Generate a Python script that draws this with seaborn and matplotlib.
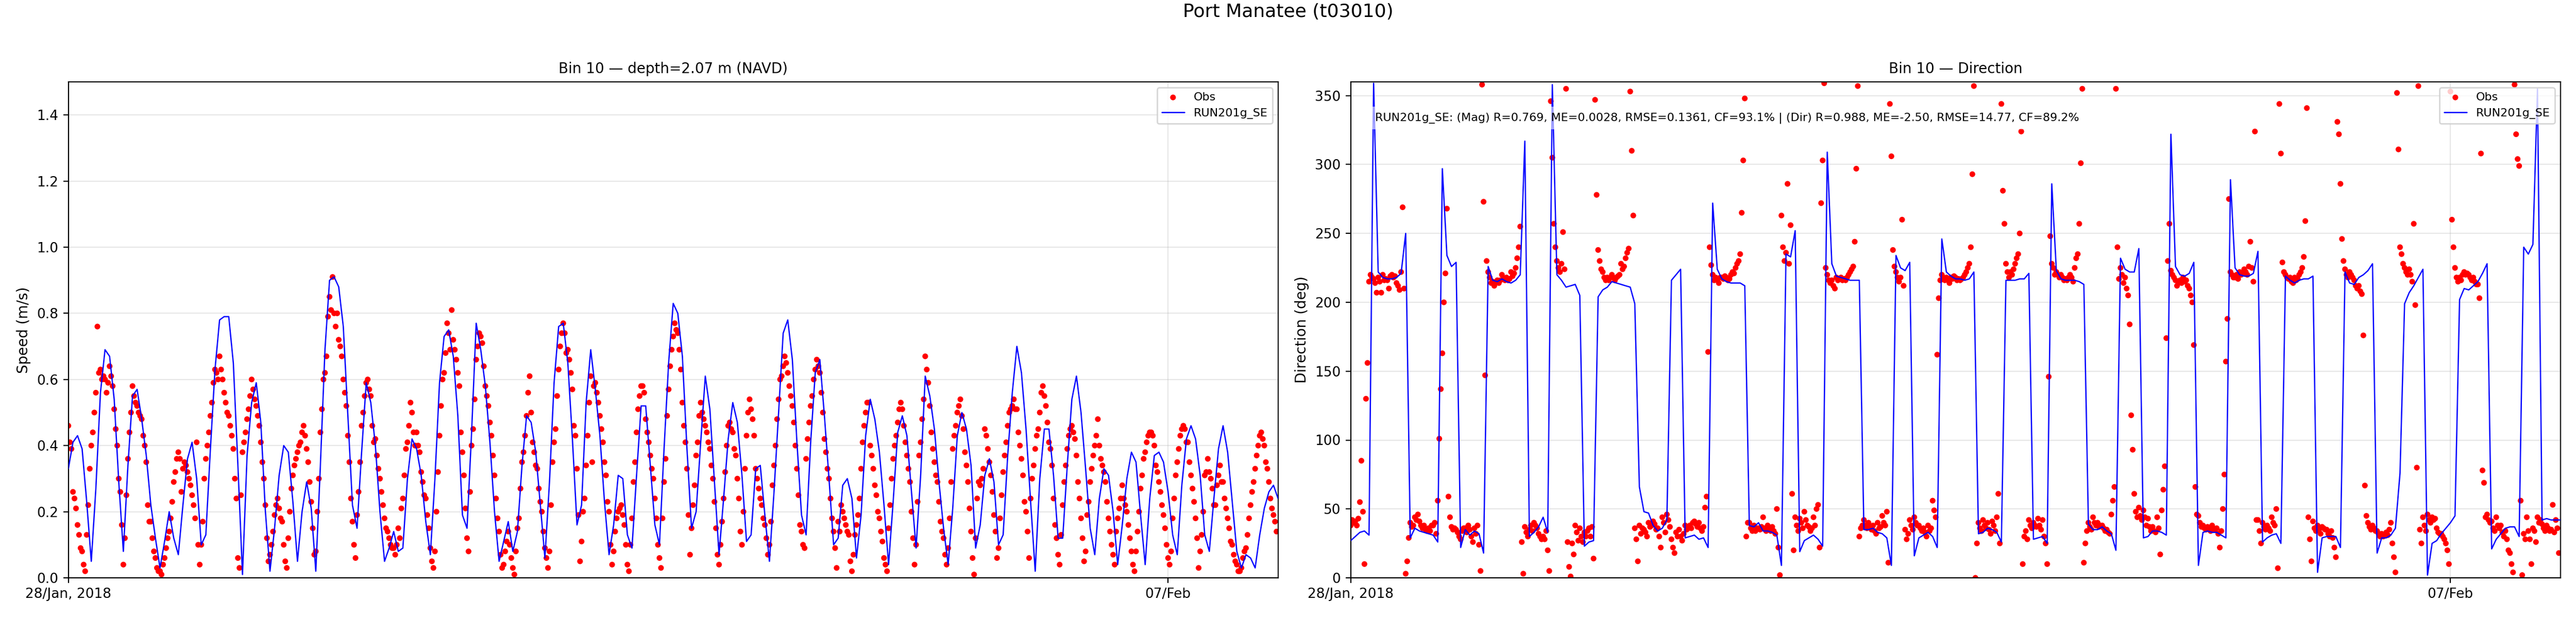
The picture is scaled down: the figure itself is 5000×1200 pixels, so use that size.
import numpy as np
import pandas as pd
import matplotlib
matplotlib.use('Agg')
import matplotlib.pyplot as plt
import matplotlib.dates as mdates
import seaborn as sns

station = "Port Manatee (t03010)"
run_name = "RUN201g_SE"
start_time = "2018-01-28 00:00"
end_time = "2018-02-08 00:00"
tick_dates = ["2018-01-28", "2018-02-07"]
tick_labels = ["28/Jan, 2018", "07/Feb"]
stats_text = ("RUN201g_SE: (Mag) R=0.769, ME=0.0028, RMSE=0.1361, CF=93.1% | "
              "(Dir) R=0.988, ME=-2.50, RMSE=14.77, CF=89.2%")

model_speed = [
    0.33, 0.41, 0.43, 0.39, 0.23, 0.05, 0.27, 0.56, 0.69, 0.67, 0.54, 0.29,
    0.08, 0.34, 0.55, 0.57, 0.48, 0.37, 0.22, 0.12, 0.03, 0.11, 0.20, 0.12,
    0.07, 0.22, 0.36, 0.41, 0.30, 0.10, 0.13, 0.39, 0.63, 0.78, 0.79, 0.79,
    0.65, 0.34, 0.01, 0.37, 0.53, 0.59, 0.47, 0.20, 0.02, 0.15, 0.31, 0.40,
    0.38, 0.23, 0.05, 0.20, 0.29, 0.21, 0.02, 0.34, 0.69, 0.90, 0.91, 0.88,
    0.76, 0.49, 0.22, 0.15, 0.38, 0.59, 0.53, 0.40, 0.20, 0.05, 0.09, 0.14,
    0.08, 0.09, 0.30, 0.42, 0.39, 0.31, 0.17, 0.07, 0.30, 0.59, 0.73, 0.75,
    0.67, 0.49, 0.19, 0.15, 0.44, 0.77, 0.69, 0.58, 0.41, 0.20, 0.05, 0.11,
    0.17, 0.08, 0.14, 0.34, 0.49, 0.47, 0.38, 0.22, 0.06, 0.29, 0.59, 0.76,
    0.77, 0.65, 0.42, 0.16, 0.22, 0.53, 0.69, 0.57, 0.43, 0.23, 0.07, 0.16,
    0.31, 0.30, 0.13, 0.09, 0.31, 0.52, 0.52, 0.34, 0.16, 0.10, 0.39, 0.65,
    0.83, 0.80, 0.67, 0.39, 0.15, 0.20, 0.41, 0.61, 0.51, 0.29, 0.07, 0.24,
    0.42, 0.53, 0.47, 0.31, 0.11, 0.13, 0.33, 0.34, 0.19, 0.05, 0.26, 0.50,
    0.74, 0.78, 0.66, 0.41, 0.19, 0.13, 0.41, 0.62, 0.66, 0.49, 0.30, 0.10,
    0.12, 0.28, 0.30, 0.24, 0.06, 0.19, 0.43, 0.54, 0.48, 0.38, 0.22, 0.04,
    0.23, 0.44, 0.49, 0.43, 0.26, 0.09, 0.31, 0.61, 0.55, 0.45, 0.29, 0.15,
    0.04, 0.21, 0.43, 0.50, 0.45, 0.34, 0.09, 0.16, 0.31, 0.36, 0.29, 0.10,
    0.13, 0.37, 0.56, 0.70, 0.62, 0.45, 0.23, 0.02, 0.30, 0.45, 0.45, 0.31,
    0.12, 0.12, 0.34, 0.54, 0.61, 0.50, 0.33, 0.15, 0.07, 0.24, 0.33, 0.31,
    0.20, 0.04, 0.16, 0.30, 0.38, 0.35, 0.19, 0.04, 0.24, 0.37, 0.38, 0.35,
    0.26, 0.13, 0.07, 0.28, 0.42, 0.46, 0.42, 0.31, 0.13, 0.08, 0.24, 0.39,
    0.46, 0.38, 0.23, 0.08, 0.03, 0.07, 0.06, 0.03, 0.13, 0.21, 0.26, 0.28,
    0.24,
]

model_dir = [
    27, 30, 33, 34, 31, 359, 222, 218, 217, 217, 218, 221,
    250, 29, 36, 34, 33, 32, 31, 26, 297, 234, 226, 229,
    22, 35, 31, 34, 32, 18, 226, 216, 215, 217, 215, 214,
    216, 220, 317, 30, 33, 37, 44, 33, 358, 220, 216, 211,
    212, 213, 205, 23, 26, 27, 204, 209, 211, 215, 214, 213,
    212, 211, 199, 66, 48, 47, 38, 34, 36, 42, 216, 220,
    224, 29, 30, 31, 28, 29, 22, 272, 224, 217, 215, 214,
    214, 214, 212, 38, 37, 40, 34, 34, 33, 31, 9, 235,
    233, 252, 19, 27, 29, 31, 28, 23, 309, 228, 219, 218,
    217, 216, 216, 216, 35, 35, 36, 33, 32, 29, 9, 234,
    225, 223, 229, 16, 29, 31, 33, 30, 22, 246, 222, 219,
    217, 217, 216, 217, 222, 32, 33, 36, 35, 33, 26, 216,
    216, 216, 217, 217, 221, 28, 29, 30, 25, 286, 223, 217,
    216, 216, 216, 215, 213, 39, 35, 35, 37, 34, 32, 20,
    232, 224, 222, 222, 239, 29, 30, 34, 34, 33, 31, 322,
    226, 220, 219, 221, 229, 9, 33, 34, 33, 33, 31, 29,
    289, 225, 220, 219, 219, 221, 237, 26, 29, 31, 32, 25,
    219, 216, 214, 216, 217, 217, 219, 4, 29, 30, 30, 30,
    22, 222, 214, 213, 218, 220, 223, 228, 18, 29, 29, 31,
    36, 76, 199, 207, 212, 218, 224, 2, 25, 27, 32, 36,
    40, 45, 202, 210, 209, 212, 215, 221, 228, 21, 28, 32,
    36, 37, 37, 30, 240, 235, 242, 355, 42, 43, 42, 42,
    42,
]

obs_speed = [
    0.46, 0.41, 0.39, 0.26, 0.24, 0.21, 0.16, 0.13, 0.09, 0.08, 0.04, 0.02, 0.13, 0.22, 0.33, 0.40, 0.44, 0.50, 0.56, 0.76, 0.62, 0.63, 0.60, 0.61,
    0.60, 0.56, 0.59, 0.64, 0.61, 0.58, 0.51, 0.45, 0.40, 0.30, 0.26, 0.16, 0.04, 0.12, 0.25, 0.36, 0.44, 0.50, 0.58, 0.55, 0.53, 0.52, 0.50, 0.49,
    0.48, 0.43, 0.40, 0.35, 0.22, 0.17, 0.17, 0.12, 0.08, 0.06, 0.03, 0.02, 0.02, 0.01, 0.04, 0.06, 0.09, 0.12, 0.14, 0.18, 0.23, 0.29, 0.32, 0.36,
    0.38, 0.36, 0.26, 0.33, 0.35, 0.34, 0.32, 0.30, 0.28, 0.25, 0.22, 0.18, 0.41, 0.10, 0.04, 0.10, 0.17, 0.30, 0.36, 0.40, 0.44, 0.49, 0.53, 0.59,
    0.63, 0.62, 0.60, 0.67, 0.63, 0.60, 0.56, 0.53, 0.50, 0.49, 0.46, 0.43, 0.39, 0.30, 0.24, 0.06, 0.03, 0.25, 0.38, 0.41, 0.44, 0.48, 0.51, 0.55,
    0.60, 0.57, 0.54, 0.52, 0.49, 0.46, 0.41, 0.35, 0.30, 0.22, 0.12, 0.05, 0.07, 0.10, 0.14, 0.19, 0.22, 0.24, 0.21, 0.18, 0.17, 0.10, 0.05, 0.03,
    0.12, 0.20, 0.27, 0.31, 0.34, 0.36, 0.38, 0.40, 0.41, 0.44, 0.46, 0.43, 0.39, 0.35, 0.29, 0.23, 0.15, 0.07, 0.08, 0.20, 0.30, 0.44, 0.51, 0.60,
    0.62, 0.67, 0.79, 0.85, 0.81, 0.91, 0.80, 0.76, 0.80, 0.72, 0.70, 0.67, 0.60, 0.56, 0.52, 0.43, 0.35, 0.24, 0.17, 0.10, 0.06, 0.19, 0.26, 0.35,
    0.46, 0.50, 0.55, 0.59, 0.60, 0.57, 0.55, 0.46, 0.41, 0.42, 0.37, 0.33, 0.30, 0.26, 0.22, 0.18, 0.15, 0.14, 0.12, 0.10, 0.09, 0.09, 0.07, 0.10,
    0.15, 0.12, 0.21, 0.24, 0.31, 0.39, 0.41, 0.46, 0.53, 0.50, 0.44, 0.40, 0.44, 0.40, 0.38, 0.32, 0.29, 0.25, 0.24, 0.19, 0.15, 0.09, 0.05, 0.03,
    0.08, 0.20, 0.32, 0.43, 0.52, 0.60, 0.62, 0.68, 0.77, 0.74, 0.69, 0.81, 0.72, 0.69, 0.66, 0.62, 0.58, 0.44, 0.38, 0.31, 0.21, 0.12, 0.08, 0.26,
    0.40, 0.45, 0.54, 0.66, 0.70, 0.74, 0.73, 0.71, 0.64, 0.58, 0.55, 0.52, 0.47, 0.43, 0.37, 0.31, 0.24, 0.18, 0.14, 0.07, 0.03, 0.04, 0.08, 0.11,
    0.14, 0.10, 0.06, 0.03, 0.01, 0.08, 0.15, 0.18, 0.27, 0.35, 0.38, 0.43, 0.49, 0.56, 0.61, 0.50, 0.41, 0.38, 0.34, 0.33, 0.27, 0.23, 0.20, 0.14,
    0.09, 0.06, 0.03, 0.08, 0.22, 0.35, 0.41, 0.45, 0.55, 0.63, 0.70, 0.74, 0.77, 0.74, 0.68, 0.69, 0.66, 0.62, 0.57, 0.46, 0.43, 0.33, 0.19, 0.05,
    0.11, 0.20, 0.24, 0.34, 0.43, 0.53, 0.61, 0.35, 0.58, 0.59, 0.56, 0.53, 0.49, 0.45, 0.41, 0.35, 0.31, 0.23, 0.20, 0.10, 0.04, 0.08, 0.14, 0.18,
    0.20, 0.21, 0.22, 0.19, 0.16, 0.10, 0.04, 0.02, 0.10, 0.18, 0.29, 0.35, 0.44, 0.51, 0.55, 0.58, 0.58, 0.56, 0.48, 0.44, 0.41, 0.37, 0.33, 0.30,
    0.24, 0.18, 0.10, 0.06, 0.03, 0.18, 0.29, 0.36, 0.49, 0.57, 0.64, 0.69, 0.73, 0.77, 0.75, 0.74, 0.69, 0.63, 0.53, 0.46, 0.41, 0.33, 0.19, 0.07,
    0.15, 0.22, 0.28, 0.37, 0.41, 0.49, 0.53, 0.50, 0.48, 0.46, 0.44, 0.41, 0.39, 0.34, 0.30, 0.23, 0.15, 0.07, 0.04, 0.10, 0.17, 0.24, 0.32, 0.40,
    0.46, 0.47, 0.45, 0.44, 0.39, 0.37, 0.30, 0.24, 0.14, 0.10, 0.20, 0.33, 0.43, 0.50, 0.54, 0.51, 0.48, 0.43, 0.33, 0.30, 0.27, 0.24, 0.22, 0.18,
    0.16, 0.12, 0.07, 0.10, 0.17, 0.28, 0.34, 0.40, 0.48, 0.54, 0.60, 0.61, 0.64, 0.67, 0.65, 0.62, 0.58, 0.55, 0.52, 0.47, 0.40, 0.33, 0.25, 0.16,
    0.14, 0.10, 0.09, 0.36, 0.42, 0.47, 0.52, 0.55, 0.60, 0.63, 0.66, 0.64, 0.62, 0.56, 0.50, 0.42, 0.38, 0.33, 0.30, 0.24, 0.18, 0.14, 0.09, 0.03,
    0.17, 0.14, 0.22, 0.20, 0.18, 0.16, 0.14, 0.13, 0.05, 0.02, 0.07, 0.13, 0.16, 0.19, 0.24, 0.33, 0.41, 0.46, 0.50, 0.53, 0.53, 0.40, 0.37, 0.33,
    0.28, 0.25, 0.20, 0.18, 0.14, 0.11, 0.06, 0.04, 0.02, 0.15, 0.22, 0.30, 0.36, 0.40, 0.43, 0.47, 0.51, 0.53, 0.51, 0.46, 0.41, 0.37, 0.33, 0.29,
    0.20, 0.12, 0.04, 0.10, 0.23, 0.37, 0.41, 0.48, 0.54, 0.67, 0.63, 0.59, 0.52, 0.44, 0.39, 0.35, 0.31, 0.29, 0.23, 0.17, 0.14, 0.12, 0.07, 0.04,
    0.09, 0.18, 0.29, 0.39, 0.43, 0.46, 0.50, 0.52, 0.54, 0.49, 0.45, 0.38, 0.34, 0.29, 0.21, 0.14, 0.06, 0.01, 0.12, 0.24, 0.29, 0.28, 0.30, 0.33,
    0.45, 0.43, 0.39, 0.35, 0.31, 0.26, 0.19, 0.14, 0.06, 0.09, 0.18, 0.25, 0.32, 0.37, 0.41, 0.46, 0.50, 0.51, 0.52, 0.54, 0.51, 0.51, 0.44, 0.40,
    0.36, 0.31, 0.23, 0.20, 0.14, 0.06, 0.24, 0.30, 0.34, 0.39, 0.43, 0.45, 0.50, 0.56, 0.58, 0.55, 0.52, 0.47, 0.41, 0.39, 0.34, 0.24, 0.16, 0.12,
    0.07, 0.04, 0.13, 0.22, 0.29, 0.34, 0.39, 0.43, 0.45, 0.46, 0.44, 0.42, 0.37, 0.29, 0.24, 0.18, 0.12, 0.05, 0.08, 0.19, 0.23, 0.29, 0.33, 0.37,
    0.40, 0.43, 0.48, 0.40, 0.36, 0.34, 0.32, 0.29, 0.23, 0.18, 0.14, 0.10, 0.07, 0.04, 0.14, 0.18, 0.21, 0.24, 0.28, 0.24, 0.22, 0.20, 0.16, 0.12,
    0.08, 0.04, 0.02, 0.08, 0.14, 0.20, 0.27, 0.31, 0.36, 0.38, 0.41, 0.43, 0.44, 0.44, 0.43, 0.40, 0.34, 0.32, 0.29, 0.26, 0.22, 0.19, 0.15, 0.10,
    0.06, 0.04, 0.08, 0.18, 0.24, 0.31, 0.35, 0.39, 0.43, 0.45, 0.46, 0.45, 0.41, 0.41, 0.35, 0.31, 0.27, 0.23, 0.18, 0.12, 0.03, 0.08, 0.13, 0.20,
    0.31, 0.32, 0.36, 0.32, 0.30, 0.27, 0.22, 0.22, 0.28, 0.31, 0.34, 0.29, 0.29, 0.24, 0.21, 0.18, 0.15, 0.11, 0.10, 0.07, 0.05, 0.04, 0.02, 0.02,
    0.03, 0.06, 0.08, 0.09, 0.13, 0.18, 0.22, 0.26, 0.29, 0.33, 0.37, 0.40, 0.43, 0.44, 0.42, 0.40, 0.35, 0.33, 0.29, 0.24, 0.21, 0.19, 0.17, 0.14,
]

obs_dir = [
    38, 42, 40, 41, 38, 43, 55, 85, 48, 10, 130, 156, 215, 220, 218, 217, 214, 207, 218, 215, 207, 220, 216, 217,
    216, 210, 219, 220, 218, 219, 214, 212, 209, 222, 269, 210, 3, 12, 29, 40, 37, 38, 44, 42, 46, 41, 38, 36,
    38, 35, 34, 36, 34, 38, 38, 40, 32, 56, 101, 137, 163, 200, 221, 268, 59, 44, 37, 35, 36, 35, 33, 30,
    28, 34, 36, 36, 33, 38, 35, 30, 26, 36, 32, 38, 24, 5, 358, 273, 147, 230, 222, 218, 214, 215, 212, 214,
    216, 214, 216, 220, 217, 216, 218, 216, 217, 222, 219, 221, 225, 232, 240, 255, 26, 3, 37, 33, 30, 35, 38, 34,
    40, 38, 36, 32, 30, 28, 30, 28, 34, 20, 5, 346, 305, 257, 240, 230, 225, 222, 228, 251, 224, 355, 26, 8,
    1, 25, 17, 38, 33, 27, 36, 30, 26, 33, 30, 34, 36, 30, 37, 14, 347, 278, 238, 230, 224, 222, 218, 216,
    218, 216, 218, 220, 218, 216, 218, 219, 220, 228, 224, 226, 232, 236, 239, 353, 310, 263, 36, 28, 12, 38, 32, 36,
    35, 33, 30, 40, 37, 38, 41, 39, 35, 36, 30, 22, 44, 40, 33, 46, 42, 37, 28, 22, 18, 33, 30, 35,
    30, 27, 32, 38, 35, 36, 38, 36, 40, 41, 39, 37, 40, 36, 34, 37, 51, 59, 164, 240, 227, 220, 216, 218,
    216, 214, 218, 218, 217, 219, 218, 216, 217, 220, 222, 221, 225, 228, 230, 235, 265, 303, 348, 30, 40, 40, 36, 34,
    38, 34, 36, 36, 35, 37, 44, 36, 34, 38, 36, 34, 37, 34, 32, 50, 22, 2, 263, 240, 230, 236, 286, 228,
    256, 61, 20, 44, 38, 34, 43, 40, 36, 48, 42, 38, 37, 34, 36, 44, 38, 50, 53, 22, 272, 303, 359, 225,
    220, 216, 214, 216, 212, 210, 218, 216, 217, 218, 216, 217, 216, 218, 220, 222, 224, 226, 244, 297, 357, 30, 36, 38,
    42, 38, 36, 40, 37, 35, 38, 34, 32, 40, 36, 37, 45, 40, 38, 48, 11, 344, 306, 238, 226, 222, 218, 215,
    218, 260, 212, 35, 28, 32, 42, 38, 35, 44, 40, 38, 38, 36, 34, 36, 33, 30, 38, 34, 36, 56, 49, 44,
    162, 203, 216, 220, 218, 216, 218, 216, 214, 218, 217, 219, 218, 216, 217, 216, 217, 218, 220, 222, 225, 228, 240, 293,
    357, 0, 25, 40, 36, 34, 42, 38, 36, 40, 35, 32, 41, 38, 34, 44, 61, 25, 344, 281, 257, 228, 222, 218,
    222, 220, 224, 228, 232, 235, 250, 324, 10, 30, 34, 28, 42, 38, 36, 40, 38, 37, 43, 38, 35, 42, 30, 25,
    10, 146, 248, 228, 225, 220, 222, 220, 218, 220, 218, 216, 217, 216, 218, 220, 218, 215, 225, 232, 235, 257, 301, 355,
    11, 25, 34, 40, 37, 35, 44, 40, 38, 40, 37, 38, 38, 36, 34, 35, 33, 32, 46, 56, 66, 355, 240, 217,
    225, 220, 214, 218, 210, 205, 184, 118, 93, 61, 48, 44, 51, 45, 42, 49, 44, 38, 43, 37, 34, 37, 34, 33,
    44, 36, 17, 49, 64, 81, 174, 230, 257, 223, 220, 218, 216, 212, 214, 216, 214, 218, 215, 216, 212, 210, 205, 200,
    169, 66, 46, 45, 40, 37, 38, 36, 35, 37, 35, 34, 38, 36, 35, 36, 32, 22, 34, 50, 75, 157, 188, 275,
    222, 220, 218, 218, 220, 217, 222, 220, 221, 224, 222, 220, 226, 244, 225, 215, 324, 42, 42, 34, 25, 40, 37, 35,
    38, 36, 34, 44, 40, 38, 50, 7, 344, 308, 229, 222, 220, 218, 217, 218, 215, 214, 218, 216, 217, 220, 222, 225,
    233, 259, 341, 44, 28, 12, 41, 36, 34, 38, 35, 32, 37, 36, 35, 35, 32, 30, 34, 29, 22, 15, 331, 322,
    286, 246, 230, 224, 220, 218, 222, 220, 218, 216, 212, 210, 212, 208, 206, 176, 67, 45, 40, 37, 35, 38, 36, 34,
    34, 32, 30, 32, 30, 31, 33, 31, 35, 40, 25, 15, 4, 352, 311, 240, 235, 228, 225, 222, 220, 224, 220, 215,
    257, 198, 80, 357, 35, 25, 44, 38, 34, 46, 42, 40, 44, 42, 43, 36, 33, 32, 32, 30, 28, 25, 20, 10,
    353, 260, 240, 225, 218, 215, 218, 216, 220, 222, 220, 221, 220, 218, 216, 218, 215, 213, 213, 203, 308, 78, 69, 44,
    46, 42, 40, 41, 36, 34, 44, 38, 36, 38, 33, 30, 34, 28, 20, 18, 10, 4, 358, 322, 304, 299, 56, 2,
    32, 28, 44, 34, 28, 10, 36, 34, 26, 44, 40, 42, 39, 36, 34, 38, 36, 34, 35, 53, 33, 42, 36, 18,
]

# 2. TIME AXES
model_time = pd.date_range(start_time, periods=len(model_speed), freq="h")
obs_time = pd.date_range(start_time, periods=len(obs_speed), freq="20min")
obs_dir_time = pd.date_range(start_time, periods=len(obs_dir), freq="20min")

df_obs = pd.DataFrame({"time": obs_time, "speed": obs_speed})
df_obs_dir = pd.DataFrame({"time": obs_dir_time, "dir": obs_dir})
df_mod = pd.DataFrame({"time": model_time, "speed": model_speed, "dir": model_dir})

# 3. STYLE
sns.set_style("ticks", {"axes.edgecolor": "black", "xtick.color": "black",
                        "ytick.color": "black", "text.color": "black",
                        "axes.labelcolor": "black"})
plt.rcParams['font.family'] = ['DejaVu Sans']

fig = plt.figure(figsize=(25, 6), dpi=200)
ax_spd = fig.add_axes([0.02654, 0.065, 0.4696, 0.8025])
ax_dir = fig.add_axes([0.52434, 0.065, 0.4696, 0.8025])

# 4. SPEED PANEL
sns.scatterplot(data=df_obs, x="time", y="speed", color="red", s=16,
                edgecolor="none", linewidth=0, label="Obs", ax=ax_spd, zorder=2)
sns.lineplot(data=df_mod, x="time", y="speed", color="blue", lw=0.9,
             estimator=None, label=run_name, ax=ax_spd, zorder=3)
ax_spd.set_ylim(0, 1.5)
ax_spd.set_yticks(np.arange(0, 1.41, 0.2))
ax_spd.set_ylabel("Speed (m/s)", fontsize=10)
ax_spd.set_title("Bin 10 \u2014 depth=2.07 m (NAVD)", fontsize=10)

# 5. DIRECTION PANEL
sns.scatterplot(data=df_obs_dir, x="time", y="dir", color="red", s=16,
                edgecolor="none", linewidth=0, label="Obs", ax=ax_dir, zorder=2)
sns.lineplot(data=df_mod, x="time", y="dir", color="blue", lw=0.9,
             estimator=None, label=run_name, ax=ax_dir, zorder=3)
ax_dir.set_ylim(0, 360)
ax_dir.set_yticks(np.arange(0, 351, 50))
ax_dir.set_ylabel("Direction (deg)", fontsize=10)
ax_dir.set_title("Bin 10 \u2014 Direction", fontsize=10)
ax_dir.text(0.02, 0.927, stats_text, transform=ax_dir.transAxes, fontsize=8,
            va="center", ha="left", zorder=5,
            bbox=dict(facecolor="white", alpha=0.6, edgecolor="none"))

# 6. SHARED AXIS FORMATTING
for ax in (ax_spd, ax_dir):
    ax.set_xlim(pd.Timestamp(start_time), pd.Timestamp(end_time))
    ax.set_xticks([mdates.date2num(pd.Timestamp(d)) for d in tick_dates])
    ax.set_xticklabels(tick_labels)
    ax.set_xlabel("")
    ax.tick_params(labelsize=9.5)
    ax.grid(True, color="#b0b0b0", alpha=0.3, lw=0.8)
    for sp in ax.spines.values():
        sp.set_visible(True)
        sp.set_color("black")
    ax.legend(loc="upper right", fontsize=8)

fig.suptitle(station, fontsize=13, y=0.995)
fig.savefig("out.png", dpi=200)
